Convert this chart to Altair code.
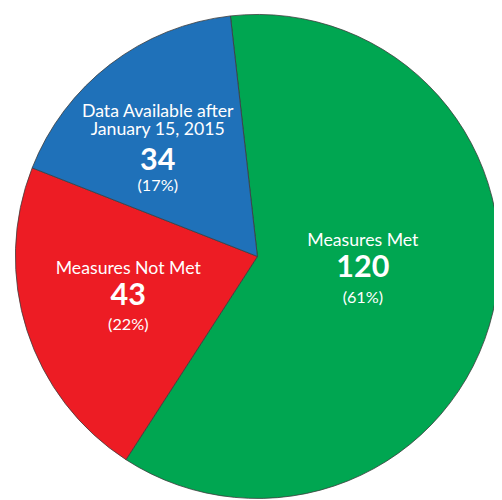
import math
import altair as alt
import pandas as pd

categories = ["Measures Met", "Measures Not Met", "Data Available after\nJanuary 15, 2015"]
values = [120, 43, 34]
colors = ["#00A651", "#ED1C24", "#1F71B9"]

total = sum(values)
df = pd.DataFrame({"category": categories, "value": values, "idx": list(range(len(values)))})

start_angle = math.radians(-6.4)
tscale = alt.Scale(domain=[0, total], range=[start_angle, start_angle + 2 * math.pi])

CX, CY = 253.5, 248.5
FONT = "Lato"

base = alt.Chart(df).transform_window(
    cum="sum(value)", sort=[alt.SortField("idx")], frame=[None, 0]
).transform_calculate(
    start="datum.cum - datum.value",
    mid="datum.cum - datum.value / 2",
    num="format(datum.value, 'd')",
    pct="'(' + format(datum.value / " + str(total) + ", '.0%') + ')'",
)

arcs = base.mark_arc(outerRadius=246, stroke="#3c3c3c", strokeWidth=0.8).encode(
    theta=alt.Theta("start:Q", scale=tscale),
    theta2="cum:Q",
    color=alt.Color("category:N", scale=alt.Scale(domain=categories, range=colors), legend=None),
    x=alt.value(CX),
    y=alt.value(CY),
)

# per-slice label placement: (radius, dx, dy, name dy, pct dy)
place = [
    (105, 5, -3.5, -31, 27),
    (141, 3, 6.5, -32, 25),
    (132, -21, 17, -54, 21),
]

layers = [arcs]
for i, (r, dx, dy, ndy, pdy) in enumerate(place):
    sub = base.transform_filter(alt.datum.idx == i)
    enc = dict(theta=alt.Theta("mid:Q", scale=tscale), x=alt.value(CX), y=alt.value(CY))
    layers.append(sub.mark_text(radius=r, dx=dx, dy=dy + ndy, font=FONT, fontSize=18, color="white",
                                baseline="alphabetic", lineBreak="\n", lineHeight=18.5).encode(text="category:N", **enc))
    layers.append(sub.mark_text(radius=r, dx=dx, dy=dy, font=FONT, fontSize=31, fontWeight="bold", color="white",
                                baseline="alphabetic").encode(text="num:N", **enc))
    layers.append(sub.mark_text(radius=r, dx=dx, dy=dy + pdy, font=FONT, fontSize=16.5, color="white",
                                baseline="alphabetic").encode(text="pct:N", **enc))

chart = alt.layer(*layers).properties(
    width=494, height=492, autosize=alt.AutoSizeParams(type="none"), padding=0
).configure_view(stroke=None)

chart.save("out.html", embed_options={"renderer": "svg", "actions": False})
